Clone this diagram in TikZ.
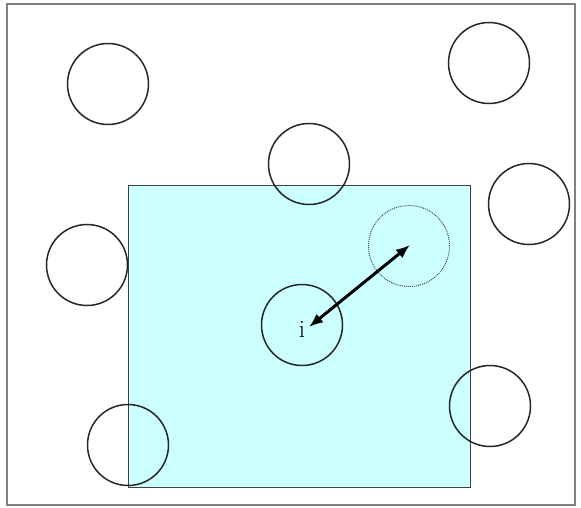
\documentclass[tikz,border=0pt]{standalone}
\usetikzlibrary{arrows.meta}
\definecolor{lightcyan}{RGB}{204,255,255}
\definecolor{framegray}{RGB}{128,128,128}
\begin{document}
\begin{tikzpicture}[x=1pt,y=-1pt,
  ball/.style={circle,draw=black!85,line width=1.5pt,minimum size=81pt,inner sep=0pt},
  ghost/.style={circle,draw=black!70,densely dotted,line width=1pt,minimum size=81pt,inner sep=0pt}]
\useasboundingbox (0,0) rectangle (581,508);
\draw[framegray,line width=2pt] (7,4) rectangle (575,505);
\node[ball] (c1) at (108,84) {};
\node[ball] (c2) at (489,63) {};
\node[ball] (c4) at (529,204) {};
\node[ball] (c5) at (87,265) {};
\filldraw[fill=lightcyan,draw=black!75,line width=1pt] (128,185) rectangle (470,487);
\node[ball] (c3) at (309,164) {};
\node[ball] (ci) at (302,325) {};
\node[ghost] (cd) at (409,246) {};
\node[ball] (c8) at (490,406) {};
\node[ball] (c9) at (128,445) {};
\node[font=\fontsize{25}{27}\selectfont,inner sep=0pt] (lab) at (302,329) {i};
\coordinate (a1) at (309,327);
\coordinate (a2) at (410,245);
\draw[line width=3pt,{Latex[length=14pt,width=11pt]}-{Latex[length=14pt,width=11pt]}] (a1) -- (a2);
\end{tikzpicture}
\end{document}
